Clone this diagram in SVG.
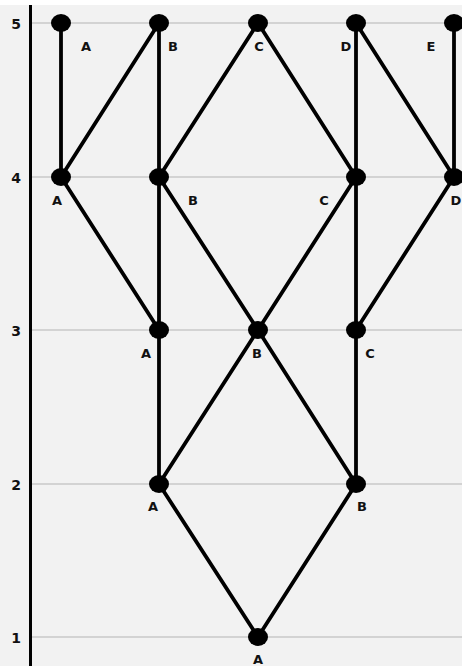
<svg xmlns="http://www.w3.org/2000/svg" width="462" height="666" viewBox="0 0 462 666">
<style>
.grid{stroke:#b4b4b4;stroke-width:1}
.edge{stroke:#000;stroke-width:3.8;stroke-linecap:round}
.node{fill:#000}
.lbl{font-family:"DejaVu Sans",sans-serif;font-weight:900;font-size:13px;fill:#111;text-anchor:middle}
.ax{font-family:"DejaVu Sans",sans-serif;font-weight:900;font-size:14px;fill:#111;text-anchor:middle}
</style>
<rect x="0" y="0" width="462" height="666" fill="#fff"/>
<rect x="0" y="5" width="462" height="661" fill="#f2f2f2"/>
<g id="axis">
<line class="grid" x1="32" y1="23" x2="462" y2="23"/>
<line class="grid" x1="32" y1="177" x2="462" y2="177"/>
<line class="grid" x1="32" y1="330" x2="462" y2="330"/>
<line class="grid" x1="32" y1="484" x2="462" y2="484"/>
<line class="grid" x1="32" y1="637" x2="462" y2="637"/>
<line x1="30.5" y1="5" x2="30.5" y2="666" stroke="#000" stroke-width="3"/>
<text class="ax" x="16" y="29">5</text>
<text class="ax" x="16" y="183">4</text>
<text class="ax" x="16" y="336">3</text>
<text class="ax" x="16" y="490">2</text>
<text class="ax" x="16" y="643">1</text>
</g>
<g id="connectors">
<line class="edge" x1="61" y1="23" x2="61" y2="177"/>
<line class="edge" x1="159" y1="23" x2="61" y2="177"/>
<line class="edge" x1="159" y1="23" x2="159" y2="177"/>
<line class="edge" x1="258" y1="23" x2="159" y2="177"/>
<line class="edge" x1="258" y1="23" x2="356" y2="177"/>
<line class="edge" x1="356" y1="23" x2="356" y2="177"/>
<line class="edge" x1="356" y1="23" x2="454" y2="177"/>
<line class="edge" x1="454" y1="23" x2="454" y2="177"/>
<line class="edge" x1="61" y1="177" x2="159" y2="330"/>
<line class="edge" x1="159" y1="177" x2="159" y2="330"/>
<line class="edge" x1="159" y1="177" x2="258" y2="330"/>
<line class="edge" x1="356" y1="177" x2="258" y2="330"/>
<line class="edge" x1="356" y1="177" x2="356" y2="330"/>
<line class="edge" x1="454" y1="177" x2="356" y2="330"/>
<line class="edge" x1="159" y1="330" x2="159" y2="484"/>
<line class="edge" x1="258" y1="330" x2="159" y2="484"/>
<line class="edge" x1="258" y1="330" x2="356" y2="484"/>
<line class="edge" x1="356" y1="330" x2="356" y2="484"/>
<line class="edge" x1="159" y1="484" x2="258" y2="637"/>
<line class="edge" x1="356" y1="484" x2="258" y2="637"/>
</g>
<g id="n5A"><ellipse class="node" cx="61" cy="23" rx="10" ry="9"/><text class="lbl" x="86" y="51">A</text></g>
<g id="n5B"><ellipse class="node" cx="159" cy="23" rx="10" ry="9"/><text class="lbl" x="173" y="51">B</text></g>
<g id="n5C"><ellipse class="node" cx="258" cy="23" rx="10" ry="9"/><text class="lbl" x="259" y="51">C</text></g>
<g id="n5D"><ellipse class="node" cx="356" cy="23" rx="10" ry="9"/><text class="lbl" x="346" y="51">D</text></g>
<g id="n5E"><ellipse class="node" cx="454" cy="23" rx="10" ry="9"/><text class="lbl" x="431" y="51">E</text></g>
<g id="n4A"><ellipse class="node" cx="61" cy="177" rx="10" ry="9"/><text class="lbl" x="57" y="205">A</text></g>
<g id="n4B"><ellipse class="node" cx="159" cy="177" rx="10" ry="9"/><text class="lbl" x="193" y="205">B</text></g>
<g id="n4C"><ellipse class="node" cx="356" cy="177" rx="10" ry="9"/><text class="lbl" x="324" y="205">C</text></g>
<g id="n4D"><ellipse class="node" cx="454" cy="177" rx="10" ry="9"/><text class="lbl" x="456" y="205">D</text></g>
<g id="n3A"><ellipse class="node" cx="159" cy="330" rx="10" ry="9"/><text class="lbl" x="146" y="358">A</text></g>
<g id="n3B"><ellipse class="node" cx="258" cy="330" rx="10" ry="9"/><text class="lbl" x="257" y="358">B</text></g>
<g id="n3C"><ellipse class="node" cx="356" cy="330" rx="10" ry="9"/><text class="lbl" x="370" y="358">C</text></g>
<g id="n2A"><ellipse class="node" cx="159" cy="484" rx="10" ry="9"/><text class="lbl" x="153" y="511">A</text></g>
<g id="n2B"><ellipse class="node" cx="356" cy="484" rx="10" ry="9"/><text class="lbl" x="362" y="511">B</text></g>
<g id="n1A"><ellipse class="node" cx="258" cy="637" rx="10" ry="9"/><text class="lbl" x="258" y="664">A</text></g>
</svg>
